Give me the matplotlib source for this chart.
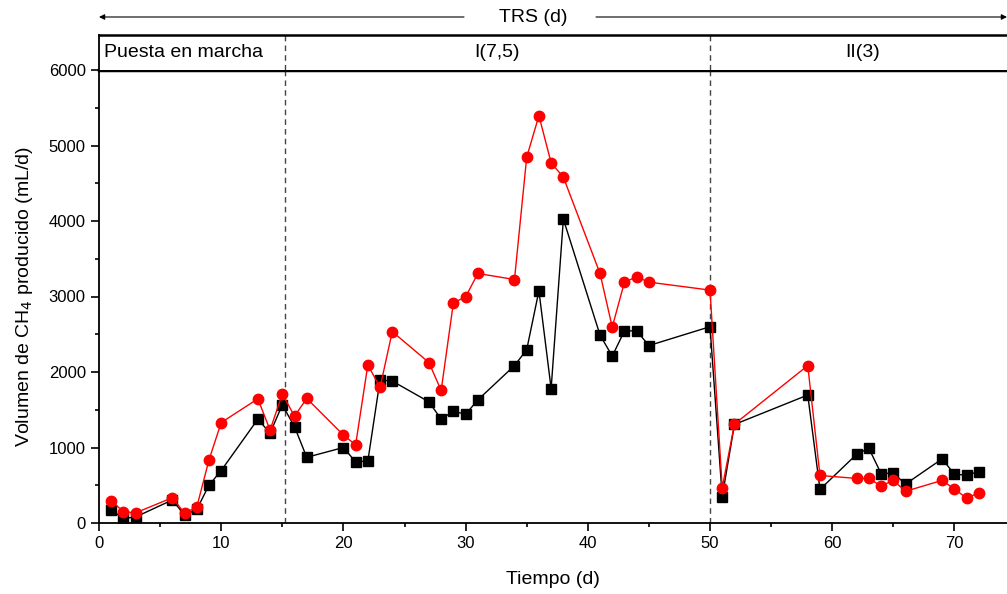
import numpy as np
import matplotlib
matplotlib.use("Agg")
import matplotlib.pyplot as plt
from matplotlib.patches import FancyArrowPatch
from matplotlib.ticker import MultipleLocator

plt.rcParams['font.family'] = ['Liberation Sans', 'DejaVu Sans']

# days of sampling
dias = [1, 2, 3, 6, 7, 8, 9, 10, 13, 14, 15, 16, 17, 20, 21, 22, 23, 24, 27, 28,
        29, 30, 31, 34, 35, 36, 37, 38, 41, 42, 43, 44, 45, 50, 51, 52, 58, 59,
        62, 63, 64, 65, 66, 69, 70, 71, 72]

# black squares (mL/d)
ch4_negro = [170, 60, 80, 305, 105, 180, 500, 695, 1375, 1190, 1565, 1275, 870,
             1000, 810, 820, 1895, 1880, 1605, 1375, 1480, 1440, 1630, 2085, 2295,
             3075, 1780, 4025, 2490, 2210, 2545, 2545, 2350, 2600, 350, 1305,
             1695, 445, 910, 990, 655, 660, 515, 850, 645, 635, 680]

# red circles (mL/d)
ch4_rojo = [295, 150, 135, 335, 130, 210, 835, 1330, 1645, 1230, 1710, 1415, 1650,
            1165, 1035, 2095, 1795, 2535, 2125, 1755, 2915, 2995, 3305, 3225, 4845,
            5395, 4770, 4580, 3305, 2595, 3190, 3260, 3190, 3085, 465, 1310,
            2085, 630, 590, 590, 490, 565, 420, 565, 450, 330, 400]

# phase boundaries (d) and labels
limites = [15.2, 50]
fases = ["Puesta en marcha", "I(7,5)", "II(3)"]

W, H = 1007, 594
fig = plt.figure(figsize=(W / 100, H / 100), dpi=100)

x0, x1 = 99, 1007
yb, yt = 523, 70
ax = fig.add_axes([x0 / W, 1 - yb / H, (x1 - x0) / W, (yb - yt) / H])
ax.plot(dias, ch4_negro, color='black', lw=1, marker='s', ms=6.5, zorder=3)
ax.plot(dias, ch4_rojo, color='red', lw=1, marker='o', ms=7.5, zorder=4)

xmax = (x1 - x0) / 12.22
ax.set_xlim(0, xmax)
ax.set_ylim(0, 6000)
ax.xaxis.set_major_locator(MultipleLocator(10))
ax.xaxis.set_minor_locator(MultipleLocator(5))
ax.yaxis.set_major_locator(MultipleLocator(1000))
ax.yaxis.set_minor_locator(MultipleLocator(500))
ax.tick_params(which='major', direction='out', length=6, width=1.2, labelsize=12)
ax.tick_params(which='minor', direction='out', length=3, width=1.2)
ax.spines['right'].set_visible(False)
ax.spines['top'].set_linewidth(2.5)
for s in ['left', 'bottom']:
    ax.spines[s].set_linewidth(1.3)
ax.set_xlabel("Tiempo (d)", fontsize=14, labelpad=14)
ax.set_ylabel("Volumen de CH$_4$ producido (mL/d)", fontsize=14, labelpad=10)

for b in limites:
    ax.axvline(b, color='#444444', lw=1, ls=(0, (4, 3)), zorder=1)

# phase box above the plot
yb2, yt2 = 70, 35
axb = fig.add_axes([x0 / W, 1 - yb2 / H, (x1 - x0) / W, (yb2 - yt2) / H])
axb.set_xlim(0, xmax)
axb.set_ylim(0, 1)
axb.set_xticks([])
axb.set_yticks([])
axb.spines['right'].set_visible(False)
axb.spines['bottom'].set_visible(False)
axb.spines['top'].set_linewidth(1.8)
axb.spines['left'].set_linewidth(1.3)
for b in limites:
    axb.axvline(b, color='#444444', lw=1, ls=(0, (4, 3)))
axb.text(0.4, 0.5, fases[0], ha='left', va='center', fontsize=14)
axb.text((limites[0] + limites[1]) / 2, 0.5, fases[1], ha='center', va='center', fontsize=14)
axb.text(62.5, 0.5, fases[2], ha='center', va='center', fontsize=14)

# TRS arrow, split around the label
ya = 1 - 17 / H
fig.add_artist(FancyArrowPatch(
    (464 / W, ya), (x0 / W, ya), transform=fig.transFigure,
    arrowstyle='-|>', mutation_scale=8, lw=0.8, color='black', shrinkA=0, shrinkB=0))
fig.add_artist(FancyArrowPatch(
    (596 / W, ya), (1.0, ya), transform=fig.transFigure,
    arrowstyle='-|>', mutation_scale=8, lw=0.8, color='black', shrinkA=0, shrinkB=0))
fig.text(533 / W, ya, "TRS (d)", ha='center', va='center', fontsize=14)

fig.savefig("out.png", dpi=100)
